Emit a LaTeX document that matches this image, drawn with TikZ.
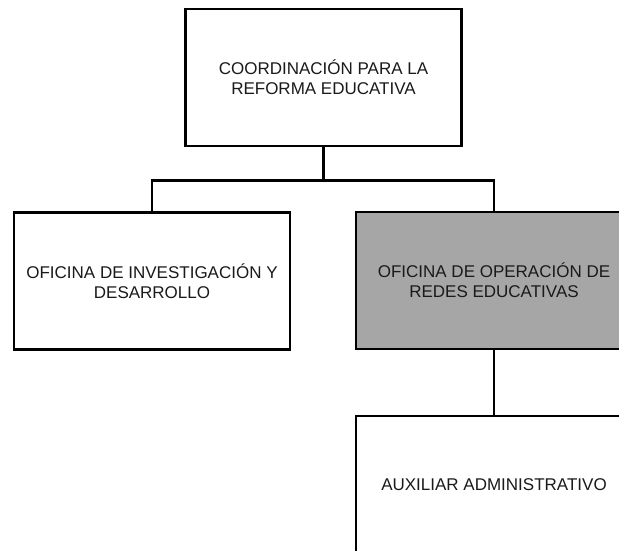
\documentclass[tikz,border=0pt]{standalone}
\usepackage{fontspec}
\setmainfont{Liberation Sans}
\definecolor{boxgray}{HTML}{A6A6A6}
\definecolor{txt}{HTML}{1A1A1A}
\tikzset{
  orgbox/.style={draw=black, line width=2.5pt, minimum width=276pt, minimum height=137pt,
    inner sep=0pt, align=center, text=txt, font=\fontsize{17}{20}\selectfont},
  link/.style={draw=black, line width=2.5pt}
}
\begin{document}
\begin{tikzpicture}[x=1pt,y=-1pt]
\useasboundingbox (0,0) rectangle (619,550);
\clip (0,0) rectangle (619,550);
\fill[white] (0,0) rectangle (619,550);
\node[orgbox] (top) at (323.5,77.5) {COORDINACIÓN PARA LA\\REFORMA EDUCATIVA};
\node[orgbox] (left) at (152,281) {OFICINA DE INVESTIGACIÓN Y\\DESARROLLO};
\node[orgbox, fill=boxgray] (right) at (494,280.5) {OFICINA DE OPERACIÓN DE\\REDES EDUCATIVAS};
\node[orgbox] (aux) at (494,484.5) {AUXILIAR ADMINISTRATIVO};
\coordinate (j) at (323.5,180.5);
\draw[link] (top.south) -- (j);
\draw[link] (left.north) |- (j) -| (right.north);
\draw[link] (right.south) -- (aux.north);
\end{tikzpicture}
\end{document}
